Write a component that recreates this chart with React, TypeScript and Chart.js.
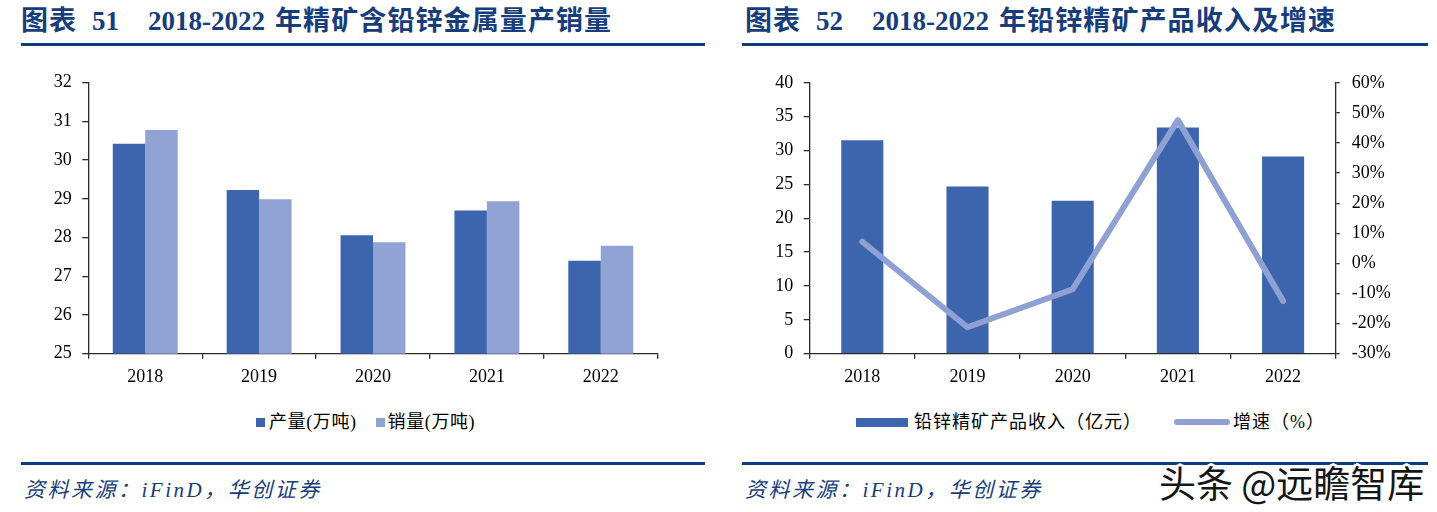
import React, { useEffect, useRef } from "react";
import { Chart, registerables } from "chart.js";

Chart.register(...registerables);

// ---------- data ----------
const categories = ["2018", "2019", "2020", "2021", "2022"];
const productionLabel = "产量(万吨)";
const salesLabel = "销量(万吨)";
const productionValues = [30.42, 29.23, 28.06, 28.7, 27.4];
const salesValues = [30.78, 28.99, 27.88, 28.94, 27.79];

const revenueLabel = "铅锌精矿产品收入（亿元）";
const growthLabel = "增速（%）";
const revenueValues = [31.5, 24.7, 22.6, 33.4, 29.1];
const growthValues = [7.2, -21.2, -8.6, 47.6, -12.5];

const title1Prefix = "图表";
const title1Num = "51";
const title1Years = "2018-2022";
const title1Text = "年精矿含铅锌金属量产销量";
const title2Prefix = "图表";
const title2Num = "52";
const title2Years = "2018-2022";
const title2Text = "年铅锌精矿产品收入及增速";
const sourceText = "资料来源：iFinD，华创证券";
const watermarkText = "头条 @远瞻智库";

// ---------- styles ----------
const DARK = "#3D65AE";
const LIGHT = "#91A3D4";
const LINE = "#8FA1D3";
const NAVY = "#173D7B";
const RULE = "#0C3C7E";
const AXIS = "#2b2b2b";
const SERIF = '"Liberation Serif", "Noto Sans CJK SC", serif';

Chart.defaults.font.family = SERIF;

function useChart(ref: React.RefObject<HTMLCanvasElement>, build: () => any) {
  useEffect(() => {
    if (!ref.current) return;
    const chart = new Chart(ref.current, build());
    return () => chart.destroy();
  }, []);
}

const axisCommon = (tickLength: number, padding: number, size: number) => ({
  grid: { drawOnChartArea: false, drawTicks: true, tickLength, color: AXIS, lineWidth: 1.3 },
  border: { display: true, color: AXIS, width: 1.3 },
  ticks: { padding, color: "#000", font: { size, family: SERIF } },
});

function Chart1() {
  const ref = useRef<HTMLCanvasElement>(null);
  useChart(ref, () => ({
    type: "bar",
    data: {
      labels: categories,
      datasets: [
        { label: productionLabel, data: productionValues, backgroundColor: DARK, categoryPercentage: 0.57, barPercentage: 1 },
        { label: salesLabel, data: salesValues, backgroundColor: LIGHT, categoryPercentage: 0.57, barPercentage: 1 },
      ],
    },
    options: {
      animation: false,
      responsive: true,
      maintainAspectRatio: false,
      layout: { padding: { top: 22.7, right: 62.3, left: 0, bottom: 0 } },
      plugins: { legend: { display: false }, tooltip: { enabled: false } },
      scales: {
        x: {
          ...axisCommon(5, 7.5, 18),
          grid: { ...axisCommon(5, 7.5, 18).grid, offset: true },
          afterFit: (s: any) => { s.height = 46.3; },
        },
        y: {
          min: 25,
          max: 32,
          ...axisCommon(6, 10.5, 18),
          ticks: { ...axisCommon(6, 10.5, 18).ticks, stepSize: 1 },
          afterFit: (s: any) => { s.width = 88.3; },
        },
      },
    },
  }));
  return (
    <div style={{ position: "absolute", left: 0, top: 60, width: 720, height: 340 }}>
      <canvas ref={ref} />
    </div>
  );
}

function Chart2() {
  const ref = useRef<HTMLCanvasElement>(null);
  useChart(ref, () => ({
    type: "bar",
    data: {
      labels: categories,
      datasets: [
        { type: "bar", label: revenueLabel, data: revenueValues, backgroundColor: DARK, categoryPercentage: 0.4, barPercentage: 1, yAxisID: "y", order: 2 },
        {
          type: "line", label: growthLabel, data: growthValues, borderColor: LINE, borderWidth: 6, pointRadius: 0,
          borderCapStyle: "round", borderJoinStyle: "round", tension: 0, yAxisID: "y1", order: 1,
        },
      ],
    },
    options: {
      animation: false,
      responsive: true,
      maintainAspectRatio: false,
      layout: { padding: { top: 22.7, right: 0, left: 0, bottom: 0 } },
      plugins: { legend: { display: false }, tooltip: { enabled: false } },
      scales: {
        x: {
          ...axisCommon(5, 7.5, 18),
          grid: { ...axisCommon(5, 7.5, 18).grid, offset: true },
          afterFit: (s: any) => { s.height = 46.3; },
        },
        y: {
          position: "left",
          min: 0,
          max: 40,
          ...axisCommon(6, 10.5, 18),
          ticks: { ...axisCommon(6, 10.5, 18).ticks, stepSize: 5 },
          afterFit: (s: any) => { s.width = 89.7; },
        },
        y1: {
          position: "right",
          min: -30,
          max: 60,
          ...axisCommon(4, 12, 18),
          ticks: { ...axisCommon(4, 12, 18).ticks, stepSize: 10, callback: (v: any) => `${v}%` },
          afterFit: (s: any) => { s.width = 101.3; },
        },
      },
    },
  }));
  return (
    <div style={{ position: "absolute", left: 720, top: 60, width: 717, height: 340 }}>
      <canvas ref={ref} />
    </div>
  );
}

function Title({ left, prefix, num, years, text }: { left: number; prefix: string; num: string; years: string; text: string }) {
  const base: React.CSSProperties = {
    position: "absolute",
    top: 8,
    fontFamily: SERIF,
    fontWeight: 700,
    fontSize: 27,
    lineHeight: "27px",
    color: NAVY,
    whiteSpace: "nowrap",
  };
  return (
    <>
      <span style={{ ...base, left, letterSpacing: 1 }}>{prefix}</span>
      <span style={{ ...base, left: left + 71 }}>{num}</span>
      <span style={{ ...base, left: left + 127 }}>{years}</span>
      <span style={{ ...base, left: left + 254, letterSpacing: 1.1 }}>{text}</span>
    </>
  );
}

const legendText: React.CSSProperties = {
  fontFamily: SERIF,
  fontSize: 18,
  lineHeight: "20px",
  color: "#000",
  whiteSpace: "nowrap",
};

export default function App() {
  return (
    <div style={{ position: "absolute", left: 0, top: 0, width: 1437, height: 512, background: "#fff", overflow: "hidden" }}>
      <Title left={21} prefix={title1Prefix} num={title1Num} years={title1Years} text={title1Text} />
      <Title left={745} prefix={title2Prefix} num={title2Num} years={title2Years} text={title2Text} />
      <div style={{ position: "absolute", left: 21, top: 42.7, width: 684, height: 3.8, background: RULE }} />
      <div style={{ position: "absolute", left: 742, top: 42.7, width: 686, height: 3.8, background: RULE }} />

      <Chart1 />
      <Chart2 />

      {/* legend chart 1 */}
      <div style={{ position: "absolute", left: 256, top: 412, display: "flex", alignItems: "center" }}>
        <span style={{ width: 9, height: 9, background: DARK, marginRight: 4 }} />
        <span style={{ ...legendText, letterSpacing: 0.6 }}>{productionLabel}</span>
        <span style={{ width: 9, height: 9, background: LIGHT, marginLeft: 19, marginRight: 3 }} />
        <span style={{ ...legendText, letterSpacing: 0.6 }}>{salesLabel}</span>
      </div>

      {/* legend chart 2 */}
      <div style={{ position: "absolute", left: 856, top: 412, display: "flex", alignItems: "center" }}>
        <span style={{ width: 52, height: 9, background: DARK, marginRight: 6 }} />
        <span style={{ ...legendText, letterSpacing: 1 }}>{revenueLabel}</span>
        <span style={{ width: 56, height: 6, borderRadius: 3, background: LINE, marginLeft: 32, marginRight: 3 }} />
        <span style={{ ...legendText, letterSpacing: 1 }}>{growthLabel}</span>
      </div>

      <div style={{ position: "absolute", left: 21, top: 461.5, width: 684, height: 3.5, background: RULE }} />
      <div style={{ position: "absolute", left: 742, top: 461.5, width: 686, height: 3.5, background: RULE }} />

      <div style={{ position: "absolute", left: 24, top: 479, fontFamily: SERIF, fontStyle: "italic", fontSize: 21, lineHeight: "22px", color: NAVY, letterSpacing: 2.5, whiteSpace: "nowrap" }}>
        {sourceText}
      </div>
      <div style={{ position: "absolute", left: 745, top: 479, fontFamily: SERIF, fontStyle: "italic", fontSize: 21, lineHeight: "22px", color: NAVY, letterSpacing: 2.5, whiteSpace: "nowrap" }}>
        {sourceText}
      </div>

      <div
        style={{
          position: "absolute",
          left: 1159,
          top: 462,
          fontFamily: '"Noto Sans CJK SC", sans-serif',
          fontSize: 37,
          lineHeight: "40px",
          color: "#151515",
          whiteSpace: "nowrap",
          textShadow:
            "2px 0 0 #fff, -2px 0 0 #fff, 0 2px 0 #fff, 0 -2px 0 #fff, 2px 2px 0 #fff, -2px -2px 0 #fff, 2px -2px 0 #fff, -2px 2px 0 #fff, 3px 0 0 #fff, -3px 0 0 #fff, 0 3px 0 #fff, 0 -3px 0 #fff",
        }}
      >
        {watermarkText}
      </div>
    </div>
  );
}
